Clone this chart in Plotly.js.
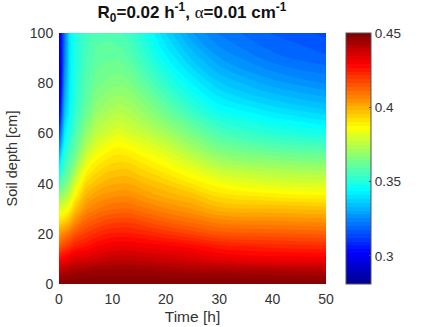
<!DOCTYPE html>
<html><head><meta charset="utf-8"><script src="https://cdn.plot.ly/plotly-3.0.1.min.js"></script>
<style>html,body{margin:0;padding:0;background:#fff}</style></head><body><div id="c" style="width:436px;height:327px"></div>
<script>
var times=[0,1,2,3,5,7,9,11,13,16,20,25,30,40,50];
var depths=[0,5,10,15,20,25,30,35,40,45,50,55,60,65,70,80,90,100];
var z0=[.450,.450,.450,.450,.450,.450,.450,.450,.450,.450,.450,.450,.450,.450,.450];
var z5=[.440,.442,.443,.444,.445,.446,.446,.446,.446,.446,.445,.444,.444,.443,.442];
var z10=[.428,.430,.433,.435,.435,.437,.438,.439,.439,.438,.437,.435,.433,.431,.431];
var z15=[.414,.418,.421,.424,.4265,.429,.431,.432,.432,.431,.430,.428,.425,.423,.422];
var z20=[.403,.407,.411,.415,.419,.422,.424,.4245,.4245,.4235,.421,.418,.415,.414,.413];
var z25=[.392,.394,.399,.405,.412,.415,.417,.418,.418,.416,.413,.410,.407,.406,.405];
var z30=[.380,.383,.388,.396,.405,.408,.410,.411,.411,.409,.406,.403,.399,.398,.397];
var z35=[.368,.372,.379,.388,.399,.403,.4045,.4055,.4055,.403,.400,.397,.392,.3895,.388];
var z40=[.356,.362,.370,.380,.393,.397,.3995,.4005,.4005,.398,.395,.390,.3855,.381,.380];
var z45=[.345,.357,.362,.372,.387,.392,.395,.396,.396,.393,.389,.384,.378,.374,.372];
var z50=[.335,.352,.358,.364,.380,.387,.390,.3915,.391,.388,.384,.377,.370,.366,.364];
var z55=[.323,.346,.354,.360,.373,.381,.385,.387,.386,.383,.378,.370,.363,.358,.356];
var z60=[.312,.341,.350,.357,.368,.376,.379,.382,.380,.377,.372,.364,.357,.351,.348];
var z65=[.303,.336,.347,.354,.364,.372,.375,.377,.376,.372,.366,.358,.351,.345,.341];
var z70=[.296,.332,.344,.352,.361,.368,.371,.373,.372,.368,.361,.352,.345,.339,.335];
var z80=[.288,.326,.342,.350,.358,.363,.365,.366,.365,.360,.352,.343,.336,.329,.325];
var z90=[.289,.322,.342,.349,.356,.360,.361,.361,.359,.353,.344,.335,.328,.321,.318];
var z100=[.295,.320,.342,.349,.355,.358,.358,.357,.355,.348,.338,.328,.322,.317,.314];
var z=[z0,z5,z10,z15,z20,z25,z30,z35,z40,z45,z50,z55,z60,z65,z70,z80,z90,z100];
var titleText='R<sub>0</sub>=0.02 h<sup>-1</sup>, <span style="font-family:Liberation Serif;font-weight:normal">α</span>=0.01 cm<sup>-1</sup>';
var jet=[[0,'#00008f'],[0.125,'#0000ff'],[0.375,'#00ffff'],[0.625,'#ffff00'],[0.875,'#ff0000'],[1,'#800000']];
var F='Liberation Sans, Arial, sans-serif';
var clear='rgba(0,0,0,0)';
Plotly.newPlot('c',[{type:'contour',x:times,y:depths,z:z,colorscale:jet,zmin:.281,zmax:.45,zauto:false,
 autocontour:false,contours:{coloring:'fill',start:.281,end:.45,size:.0026,showlines:false},line:{width:0,smoothing:1.3},
 colorbar:{x:346/436,xanchor:'left',xref:'container',thickness:25,thicknessmode:'pixels',len:1,lenmode:'fraction',y:0,yref:'paper',yanchor:'bottom',xpad:0,ypad:0,
  tickvals:[.3,.35,.4,.45],ticktext:['0.3','0.35','0.4','0.45'],ticks:'inside',ticklen:2,tickcolor:'#444',outlinecolor:'#555',outlinewidth:1,
  tickfont:{family:F,size:13.5,color:'#333'}}}],
 {width:436,height:327,margin:{l:59,r:110,t:33,b:43},paper_bgcolor:'#fff',plot_bgcolor:'#fff',showlegend:false,
  title:{text:titleText,font:{family:F,size:17,color:'#111',weight:'bold'},x:192/436,xanchor:'center',y:0.963,yanchor:'middle'},
  xaxis:{range:[0,50],tickvals:[0,10,20,30,40,50],ticks:'outside',ticklen:2,tickcolor:clear,showgrid:false,zeroline:false,tickfont:{family:F,size:14,color:'#333'},
   title:{text:'Time [h]',font:{family:F,size:15.5,color:'#333'},standoff:5}},
  yaxis:{range:[0,100],tickvals:[0,20,40,60,80,100],ticks:'outside',ticklen:2,tickcolor:clear,showgrid:false,zeroline:false,tickfont:{family:F,size:14,color:'#333'},
   title:{text:'Soil depth [cm]',font:{family:F,size:14.5,color:'#333'},standoff:8}}},
 {displayModeBar:false,staticPlot:true});
</script></body></html>
